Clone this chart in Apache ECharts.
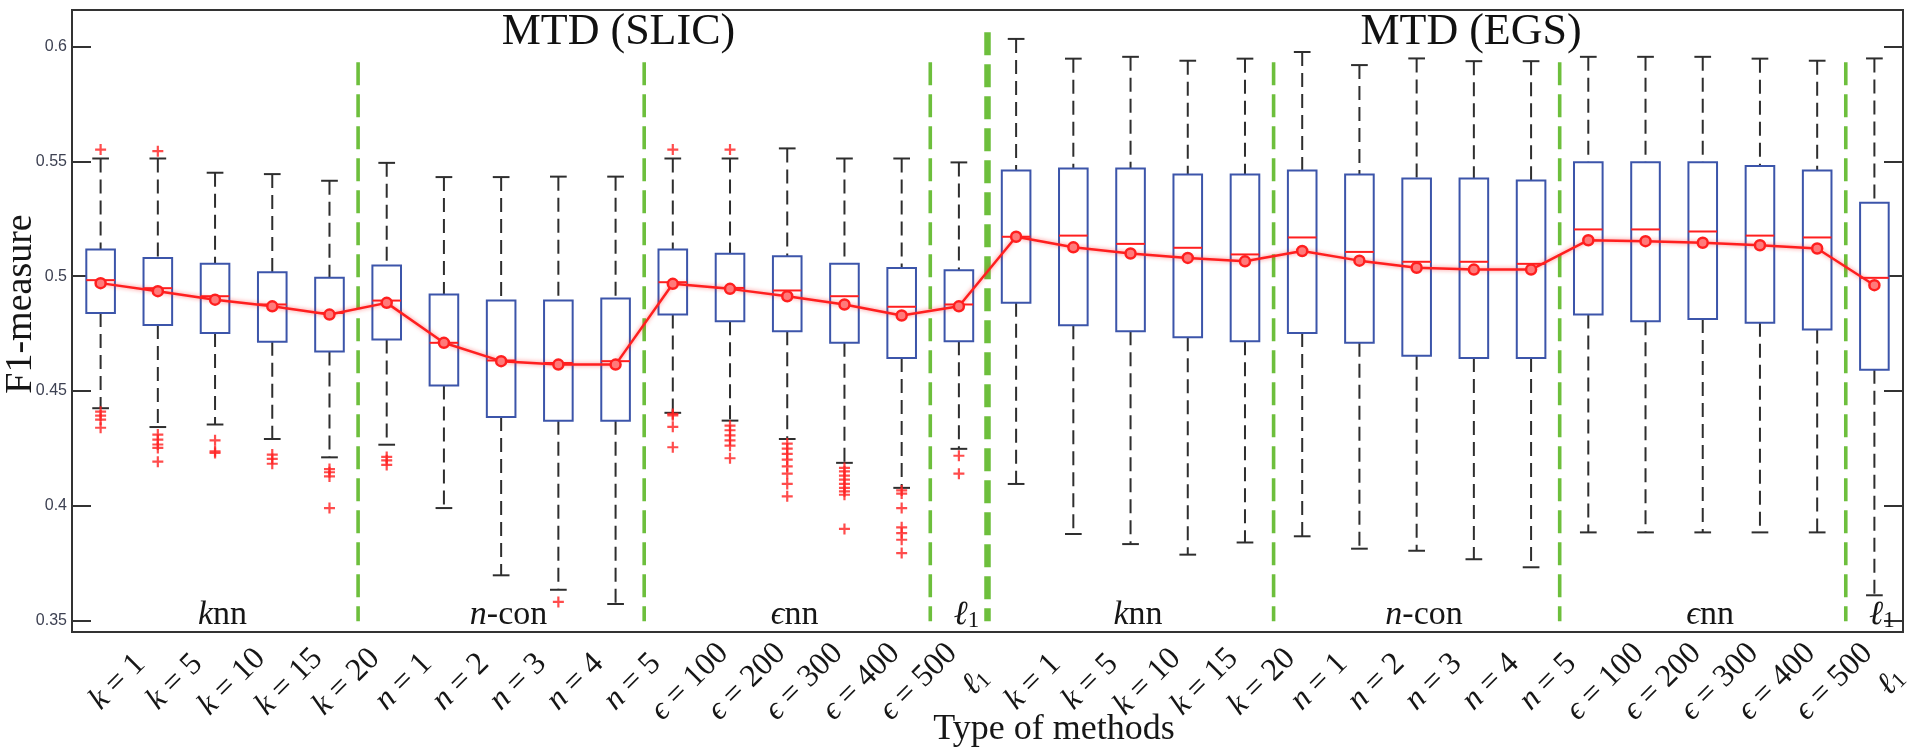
<!DOCTYPE html>
<html>
<head>
<meta charset="utf-8">
<script src="https://cdn.jsdelivr.net/npm/echarts@6/dist/echarts.min.js"></script>
<style>
  html, body { margin: 0; padding: 0; background: #ffffff; }
  #chart { width: 1915px; height: 750px; }
</style>
</head>
<body>
<div id="chart"></div>
<script>
// ---- categories: graph construction settings, first with SLIC, then with EGS superpixels ----
const settingLabels = ['k = 1', 'k = 5', 'k = 10', 'k = 15', 'k = 20',
  'n = 1', 'n = 2', 'n = 3', 'n = 4', 'n = 5',
  'ϵ = 100', 'ϵ = 200', 'ϵ = 300', 'ϵ = 400', 'ϵ = 500', 'ℓ1'];
const categories = settingLabels.concat(settingLabels);

// ---- y axis tick values ----
const yTicks = [0.35, 0.4, 0.45, 0.5, 0.55, 0.6];

// ---- box statistics of the F1-measure per setting ----
const whiskerLow = [
  0.4425, 0.4343, 0.4354, 0.4291, 0.4211,
  0.4266, 0.3990, 0.3697, 0.3634, 0.3572,
  0.4405, 0.4371, 0.4291, 0.4187, 0.4078, 0.4248,
  0.4095, 0.3877, 0.3833, 0.3787, 0.3840,
  0.3867, 0.3813, 0.3804, 0.3767, 0.3732,
  0.3884, 0.3884, 0.3884, 0.3884, 0.3884, 0.3610];
const quartile1 = [
  0.4840, 0.4788, 0.4753, 0.4715, 0.4672,
  0.4724, 0.4524, 0.4387, 0.4370, 0.4370,
  0.4833, 0.4804, 0.4760, 0.4710, 0.4644, 0.4717,
  0.4884, 0.4786, 0.4760, 0.4734, 0.4717,
  0.4753, 0.4710, 0.4654, 0.4644, 0.4644,
  0.4833, 0.4804, 0.4814, 0.4797, 0.4768, 0.4593];
const median = [
  0.4983, 0.4948, 0.4913, 0.4877, 0.4840,
  0.4894, 0.4710, 0.4633, 0.4622, 0.4630,
  0.4974, 0.4949, 0.4938, 0.4913, 0.4867, 0.4877,
  0.5172, 0.5177, 0.5141, 0.5124, 0.5095,
  0.5169, 0.5106, 0.5063, 0.5063, 0.5054,
  0.5204, 0.5204, 0.5195, 0.5177, 0.5169, 0.4993];
const quartile3 = [
  0.5116, 0.5080, 0.5054, 0.5017, 0.4993,
  0.5047, 0.4920, 0.4894, 0.4894, 0.4903,
  0.5116, 0.5098, 0.5087, 0.5054, 0.5036, 0.5026,
  0.5461, 0.5469, 0.5469, 0.5443, 0.5443,
  0.5461, 0.5443, 0.5426, 0.5426, 0.5417,
  0.5497, 0.5497, 0.5497, 0.5480, 0.5461, 0.5320];
const whiskerHigh = [
  0.5513, 0.5513, 0.5451, 0.5445, 0.5416,
  0.5494, 0.5432, 0.5432, 0.5434, 0.5434,
  0.5513, 0.5513, 0.5557, 0.5513, 0.5513, 0.5496,
  0.6034, 0.5948, 0.5956, 0.5939, 0.5948,
  0.5977, 0.5920, 0.5949, 0.5937, 0.5937,
  0.5956, 0.5956, 0.5956, 0.5948, 0.5939, 0.5949];
// mean F1-measure per setting (joined by the red line)
const meanF1 = [
  0.4970, 0.4935, 0.4898, 0.4869, 0.4833,
  0.4884, 0.4710, 0.4630, 0.4615, 0.4615,
  0.4967, 0.4945, 0.4913, 0.4877, 0.4829, 0.4869,
  0.5172, 0.5126, 0.5099, 0.5080, 0.5065,
  0.5110, 0.5068, 0.5037, 0.5029, 0.5029,
  0.5157, 0.5153, 0.5146, 0.5135, 0.5121, 0.4961];
// outlying images per setting
const outliers = [
  [0.5552, 0.4410, 0.4393, 0.4375, 0.4340],
  [0.5545, 0.4310, 0.4288, 0.4267, 0.4252, 0.4192],
  [0.4285, 0.4237, 0.4230],
  [0.4223, 0.4204, 0.4183],
  [0.4160, 0.4146, 0.4128, 0.3990],
  [0.4213, 0.4198, 0.4178],
  [],
  [],
  [0.3581],
  [],
  [0.5552, 0.4400, 0.4394, 0.4344, 0.4255],
  [0.5552, 0.4349, 0.4329, 0.4307, 0.4285, 0.4262, 0.4207],
  [0.4271, 0.4249, 0.4226, 0.4201, 0.4172, 0.4140, 0.4095, 0.4041],
  [0.4165, 0.4150, 0.4131, 0.4114, 0.4095, 0.4078, 0.4063, 0.4048, 0.3899],
  [0.4067, 0.4053, 0.3990, 0.3906, 0.3881, 0.3852, 0.3794],
  [0.4218, 0.4140],
  [], [], [], [], [], [], [], [], [], [], [], [], [], [], [], []];

// ---- method groups along the x axis ----
const groupNames = ['knn', 'n-con', 'ϵnn', 'ℓ1', 'knn', 'n-con', 'ϵnn', 'ℓ1'];
const groupFirst = [0, 5, 10, 15, 16, 21, 26, 31];
const groupLast  = [4, 9, 14, 15, 20, 25, 30, 31];
// separators sit after these category indices; the one after 15 splits SLIC from EGS
const separatorsAfter = [4, 9, 14, 15, 20, 25, 30];
const backendSplit = 15;
const backendNames = ['MTD (SLIC)', 'MTD (EGS)'];

// ---- styling ----
const SERIF = '"Liberation Serif", "DejaVu Serif", serif';
const INK = '#161616';
const BOX_BLUE = '#3c55aa';
const RED = '#ff1f1f';
const GREEN = '#6dbf3c';
const WHISKER = '#2e2e2e';

// first glyph is a math symbol; the rest is either plain text or a subscript index
function toRich(label) {
  const sym = label[0], rest = label.slice(1);
  return /^\d+$/.test(rest) ? `{m|${sym}}{sub|${rest}}` : `{m|${sym}}{t|${rest}}`;
}
function optionRich(size) {
  return {
    m: { fontFamily: SERIF, fontStyle: 'italic', fontSize: size, color: INK },
    t: { fontFamily: SERIF, fontSize: size, color: INK },
    sub: { fontFamily: SERIF, fontSize: Math.round(size * 0.68), color: INK, verticalAlign: 'bottom' }
  };
}
function elementRich(size) {
  return {
    m: { fontFamily: SERIF, fontStyle: 'italic', fontSize: size, fill: INK },
    t: { fontFamily: SERIF, fontSize: size, fill: INK },
    sub: { fontFamily: SERIF, fontSize: Math.round(size * 0.68), fill: INK, verticalAlign: 'bottom' }
  };
}

const boxData = categories.map((c, i) =>
  [i, whiskerLow[i], quartile1[i], median[i], quartile3[i], whiskerHigh[i]]);
const outlierPoints = [];
outliers.forEach((vals, i) => vals.forEach(v => outlierPoints.push([i, v])));

const PLUS = 'path://M4.4,0H6.6V4.4H11V6.6H6.6V11H4.4V6.6H0V4.4H4.4Z';

function renderBox(params, api) {
  const i = api.value(0);
  const band = api.size([1, 0])[0];
  const half = band * 0.25;
  const capHalf = band * 0.146;
  const x = api.coord([i, api.value(3)])[0];
  const yLo = api.coord([i, api.value(1)])[1];
  const yQ1 = api.coord([i, api.value(2)])[1];
  const yMed = api.coord([i, api.value(3)])[1];
  const yQ3 = api.coord([i, api.value(4)])[1];
  const yHi = api.coord([i, api.value(5)])[1];
  const dashed = { stroke: WHISKER, lineWidth: 2, lineDash: [14, 7] };
  const solid = { stroke: WHISKER, lineWidth: 2 };
  return {
    type: 'group',
    children: [
      { type: 'line', shape: { x1: x, y1: yHi, x2: x, y2: yQ3 }, style: dashed },
      { type: 'line', shape: { x1: x, y1: yQ1, x2: x, y2: yLo }, style: dashed },
      { type: 'line', shape: { x1: x - capHalf, y1: yHi, x2: x + capHalf, y2: yHi }, style: solid },
      { type: 'line', shape: { x1: x - capHalf, y1: yLo, x2: x + capHalf, y2: yLo }, style: solid },
      { type: 'rect', shape: { x: x - half, y: yQ3, width: 2 * half, height: yQ1 - yQ3 },
        style: { fill: '#ffffff', stroke: BOX_BLUE, lineWidth: 2 } },
      { type: 'line', shape: { x1: x - half, y1: yMed, x2: x + half, y2: yMed },
        style: { stroke: RED, lineWidth: 2 } }
    ]
  };
}

function renderSeparator(params, api) {
  const b = api.value(0);
  const heavy = b === backendSplit;
  const x = (api.coord([b, 0.5])[0] + api.coord([b + 1, 0.5])[0]) / 2;
  const yTop = api.coord([b, heavy ? 0.6063 : 0.5932])[1];
  const yBot = api.coord([b, 0.3497])[1];
  return {
    type: 'line',
    shape: { x1: x, y1: yTop, x2: x, y2: yBot },
    style: { stroke: GREEN, lineWidth: heavy ? 6.5 : 3.6, lineDash: [23, 9] }
  };
}

function renderGroupLabel(params, api) {
  const k = api.value(2);
  const a = api.coord([api.value(0), 0.3523]);
  const b = api.coord([api.value(1), 0.3523]);
  const band = api.size([1, 0])[0];
  return {
    type: 'text',
    x: (a[0] + b[0]) / 2 + band * 0.13,
    y: a[1],
    style: {
      text: toRich(groupNames[k]),
      rich: elementRich(34),
      fontFamily: SERIF, fontSize: 34, fill: INK,
      align: 'center', verticalAlign: 'middle'
    }
  };
}

function renderBackendTitle(params, api) {
  const k = api.value(1);
  const band = api.size([1, 0])[0];
  const p = api.coord([api.value(0), 0.6064]);
  const shift = k === 0 ? 0.05 : -0.05;
  return {
    type: 'text',
    x: p[0] + band * shift,
    y: p[1],
    style: {
      text: backendNames[k],
      fontFamily: SERIF, fontSize: 44, fill: '#111111',
      align: 'center', verticalAlign: 'middle'
    }
  };
}

const yAxisCommon = {
  type: 'value', min: 0.345, max: 0.616,
  axisLine: { show: false },
  splitLine: { show: false },
  axisTick: { show: true, inside: true, length: 19, customValues: yTicks,
              lineStyle: { color: '#333333', width: 2 } }
};

const chart = echarts.init(document.getElementById('chart'), null, { renderer: 'canvas' });
chart.setOption({
  animation: false,
  backgroundColor: '#ffffff',
  grid: { left: 72, right: 12, top: 10, bottom: 118, show: true,
          borderColor: '#333333', borderWidth: 2, backgroundColor: 'transparent' },
  xAxis: {
    type: 'category',
    data: categories,
    boundaryGap: true,
    axisLine: { show: false },
    axisTick: { show: false },
    splitLine: { show: false },
    axisLabel: {
      interval: 0, rotate: 45, align: 'center', verticalAlign: 'middle',
      margin: 50, padding: [24, 0, 0, 24],
      formatter: (value, index) => toRich(categories[index]),
      rich: optionRich(32)
    }
  },
  yAxis: [
    Object.assign({}, yAxisCommon, {
      position: 'left',
      axisLabel: { customValues: yTicks, margin: 5, fontFamily: '"Liberation Sans", Arial, sans-serif',
                   fontSize: 16, color: '#3d4152' }
    }),
    Object.assign({}, yAxisCommon, { position: 'right', axisLabel: { show: false } })
  ],
  graphic: [
    { type: 'text', x: 1054, y: 730, z: 10,
      style: { text: 'Type of methods', fontFamily: SERIF, fontSize: 36, fill: INK,
               align: 'center', verticalAlign: 'middle' } },
    { type: 'text', x: 21, y: 304, rotation: Math.PI / 2, z: 10,
      style: { text: 'F1-measure', fontFamily: SERIF, fontSize: 38, fill: INK,
               align: 'center', verticalAlign: 'middle' } }
  ],
  series: [
    { type: 'custom', name: 'separators', renderItem: renderSeparator, z: 1,
      data: separatorsAfter.map(b => [b, 0.5]) },
    { type: 'custom', name: 'boxes', renderItem: renderBox, z: 2,
      encode: { x: 0, y: [1, 2, 3, 4, 5] }, data: boxData },
    { type: 'scatter', name: 'outliers', data: outlierPoints, z: 4,
      symbol: PLUS, symbolSize: 11, itemStyle: { color: RED } },
    { type: 'line', name: 'mean', data: meanF1, z: 5,
      symbol: 'circle', symbolSize: 10, showSymbol: true,
      lineStyle: { color: RED, width: 2.5, shadowBlur: 4, shadowColor: 'rgba(255,30,30,0.55)' },
      itemStyle: { color: '#ff7a7a', borderColor: RED, borderWidth: 2.5 } },
    { type: 'custom', name: 'groups', renderItem: renderGroupLabel, z: 6,
      data: groupFirst.map((f, k) => [f, groupLast[k], k]) },
    { type: 'custom', name: 'backends', renderItem: renderBackendTitle, z: 6,
      data: [[9, 0], [24, 1]] }
  ]
});
</script>
</body>
</html>
